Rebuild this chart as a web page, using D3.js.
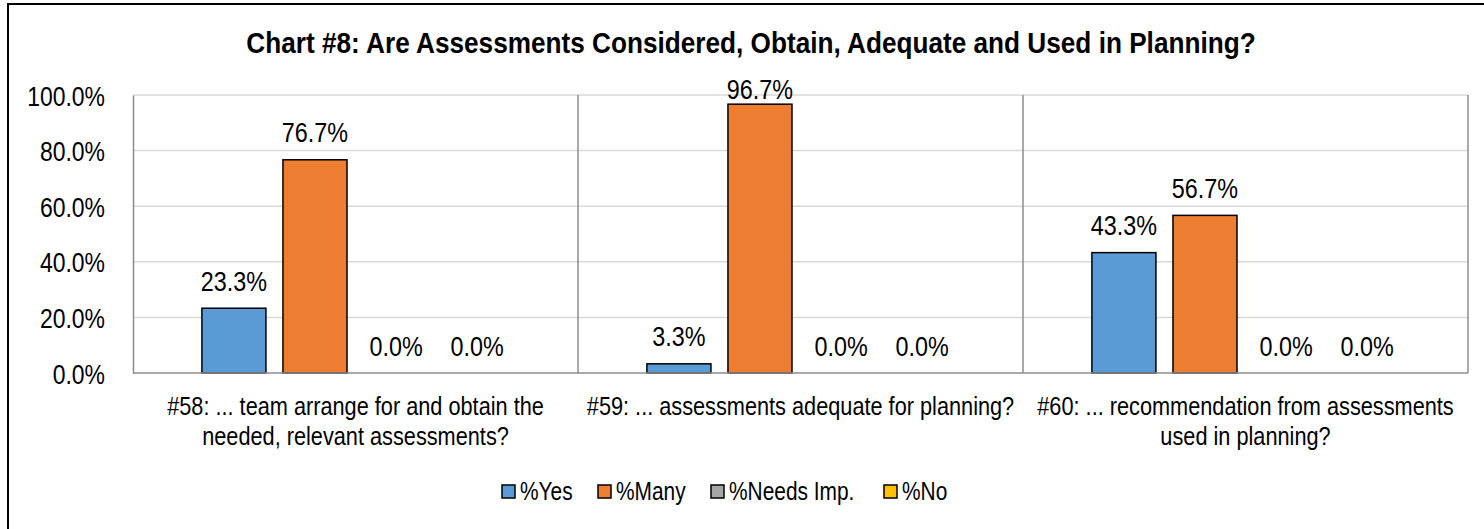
<!DOCTYPE html>
<html>
<head>
<meta charset="utf-8">
<script src="https://cdn.jsdelivr.net/npm/d3@7"></script>
<style>
  html, body { margin: 0; padding: 0; background: #fff; }
  svg { display: block; }
  text { font-family: "Liberation Sans", Arial, sans-serif; fill: #000; }
</style>
</head>
<body>
<svg id="chart" width="1484" height="529"></svg>
<script>
const title = "Chart #8: Are Assessments Considered, Obtain, Adequate and Used in Planning?";
const categories = [
  ["#58: ... team arrange for and obtain the", "needed, relevant assessments?"],
  ["#59: ... assessments adequate for planning?"],
  ["#60: ... recommendation from assessments", "used in planning?"]
];
const seriesNames = ["%Yes", "%Many", "%Needs Imp.", "%No"];
const seriesColors = ["#5B9BD5", "#ED7D31", "#A5A5A5", "#FFC000"];
const yesValues = [23.3, 3.3, 43.3];
const manyValues = [76.7, 96.7, 56.7];
const needsImpValues = [0.0, 0.0, 0.0];
const noValues = [0.0, 0.0, 0.0];
const yTicks = [0, 20, 40, 60, 80, 100];

const seriesValues = [yesValues, manyValues, needsImpValues, noValues];

const NARROW = 0.82;
const svg = d3.select("#chart");
const plot = { left: 133, right: 1468, top: 95, bottom: 373 };

// outer chart border
svg.append("rect")
  .attr("x", 8).attr("y", 4)
  .attr("width", 1500).attr("height", 560)
  .attr("fill", "none").attr("stroke", "#000").attr("stroke-width", 2);

// title
svg.append("text")
  .attr("transform", "translate(751,53) scale(0.873,1)")
  .attr("text-anchor", "middle")
  .attr("font-weight", "bold")
  .attr("font-size", 30)
  .text(title);

const x0 = d3.scaleBand()
  .domain(d3.range(categories.length))
  .range([plot.left, plot.right])
  .padding(0);

const x1 = d3.scaleBand()
  .domain(d3.range(seriesNames.length))
  .range([0, x0.bandwidth()])
  .paddingInner(0.21)
  .paddingOuter(0.85);

const y = d3.scaleLinear().domain([0, 100]).range([plot.bottom, plot.top]);

// horizontal gridlines
svg.append("g")
  .selectAll("line")
  .data(yTicks.filter(t => t > 0))
  .join("line")
  .attr("x1", plot.left).attr("x2", plot.right)
  .attr("y1", d => y(d)).attr("y2", d => y(d))
  .attr("stroke", "#D9D9D9").attr("stroke-width", 1.5);

// vertical category separators and right edge
svg.append("g")
  .selectAll("line")
  .data(d3.range(1, categories.length + 1))
  .join("line")
  .attr("x1", d => d === categories.length ? plot.right : x0(d))
  .attr("x2", d => d === categories.length ? plot.right : x0(d))
  .attr("y1", plot.top).attr("y2", plot.bottom)
  .attr("stroke", "#8C8C8C").attr("stroke-width", 1.5);

// y axis
const yAxis = d3.axisLeft(y)
  .tickValues(yTicks)
  .tickSize(0)
  .tickPadding(0)
  .tickFormat(d => d.toFixed(1) + "%");
const ya = svg.append("g").attr("transform", `translate(${plot.left},0)`).call(yAxis);
ya.select(".domain").attr("stroke", "#8C8C8C").attr("stroke-width", 1.5);
ya.selectAll("text")
  .attr("x", 0).attr("dy", "0.36em")
  .attr("transform", `translate(-28,0) scale(${NARROW},1)`)
  .attr("font-size", 28).attr("fill", "#000")
  .style("font-family", '"Liberation Sans", Arial, sans-serif');

// bars
const groups = svg.append("g")
  .selectAll("g")
  .data(categories.map((c, i) => i))
  .join("g")
  .attr("transform", i => `translate(${x0(i)},0)`);

groups.selectAll("rect")
  .data(i => seriesValues.map((vals, s) => ({ s, v: vals[i] })))
  .join("rect")
  .filter(d => d.v > 0)
  .attr("x", d => x1(d.s))
  .attr("width", x1.bandwidth())
  .attr("y", d => y(d.v))
  .attr("height", d => y(0) - y(d.v))
  .attr("fill", d => seriesColors[d.s])
  .attr("stroke", "#000").attr("stroke-width", 1.5);

// x axis line
svg.append("line")
  .attr("x1", plot.left).attr("x2", plot.right)
  .attr("y1", plot.bottom).attr("y2", plot.bottom)
  .attr("stroke", "#8C8C8C").attr("stroke-width", 1.5);

// data labels
groups.selectAll("text.lbl")
  .data(i => seriesValues.map((vals, s) => ({ s, v: vals[i] })))
  .join("text")
  .attr("class", "lbl")
  .attr("transform", d => `translate(${x1(d.s) + x1.bandwidth() / 2},${Math.max(y(d.v) - 17.5, plot.top + 4)}) scale(${NARROW},1)`)
  .attr("text-anchor", "middle")
  .attr("font-size", 28.5)
  .text(d => d.v.toFixed(1) + "%");

// category labels
groups.each(function(i) {
  const t = d3.select(this).append("text")
    .attr("transform", `translate(${x0.bandwidth() / 2},0) scale(${NARROW},1)`)
    .attr("text-anchor", "middle")
    .attr("font-size", 26.5);
  categories[i].forEach((line, k) => {
    t.append("tspan")
      .attr("x", 0)
      .attr("y", 415 + k * 30.5)
      .text(line);
  });
});

// legend
const legendX = [502, 598, 711, 884];
const legend = svg.append("g")
  .selectAll("g")
  .data(seriesNames.map((n, i) => i))
  .join("g")
  .attr("transform", i => `translate(${legendX[i]},485)`);
legend.append("rect")
  .attr("width", 13).attr("height", 13)
  .attr("fill", i => seriesColors[i])
  .attr("stroke", "#000").attr("stroke-width", 1.5);
legend.append("text")
  .attr("transform", `translate(18,15) scale(${NARROW},1)`)
  .attr("font-size", 25.5)
  .text(i => seriesNames[i]);
</script>
</body>
</html>
